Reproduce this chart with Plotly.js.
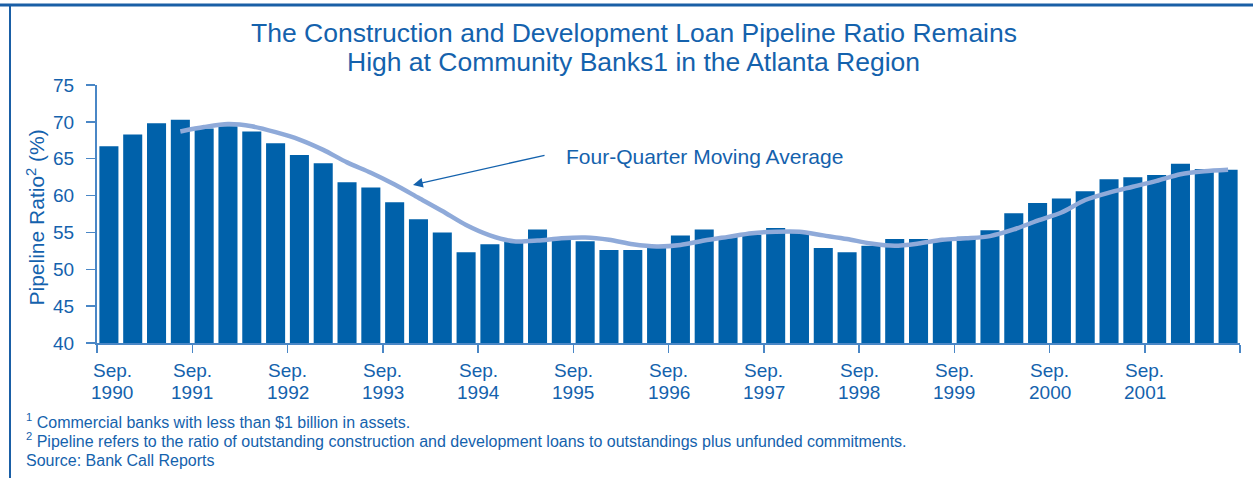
<!DOCTYPE html>
<html>
<head>
<meta charset="utf-8">
<script src="https://cdn.plot.ly/plotly-3.0.1.min.js"></script>
<style>
  html, body { margin: 0; padding: 0; background: #ffffff; }
  #chart { width: 1253px; height: 478px; }
</style>
</head>
<body>
<div id="chart"></div>
<script>
// ---- Data ----
const quarters = [
  "Sep 1990","Dec 1990","Mar 1991","Jun 1991","Sep 1991","Dec 1991","Mar 1992","Jun 1992",
  "Sep 1992","Dec 1992","Mar 1993","Jun 1993","Sep 1993","Dec 1993","Mar 1994","Jun 1994",
  "Sep 1994","Dec 1994","Mar 1995","Jun 1995","Sep 1995","Dec 1995","Mar 1996","Jun 1996",
  "Sep 1996","Dec 1996","Mar 1997","Jun 1997","Sep 1997","Dec 1997","Mar 1998","Jun 1998",
  "Sep 1998","Dec 1998","Mar 1999","Jun 1999","Sep 1999","Dec 1999","Mar 2000","Jun 2000",
  "Sep 2000","Dec 2000","Mar 2001","Jun 2001","Sep 2001","Dec 2001","Mar 2002","Jun 2002"
];
const pipelineRatio = [
  66.7, 68.3, 69.8, 70.3, 69.1, 69.4, 68.7, 67.1,
  65.5, 64.4, 61.8, 61.1, 59.1, 56.8, 55.0, 52.3,
  53.4, 53.7, 55.4, 54.1, 53.8, 52.6, 52.6, 53.0,
  54.6, 55.4, 54.4, 54.7, 55.6, 55.0, 52.9, 52.3,
  53.2, 54.1, 54.1, 54.0, 54.4, 55.3, 57.6, 59.0,
  59.6, 60.6, 62.2, 62.5, 62.8, 64.3, 63.6, 63.5
];
// Four-quarter moving average, starting at the 4th quarter (Jun 1991)
const movingAverage = [
  68.7, 69.3, 69.7, 69.4, 68.6, 67.6, 66.2, 64.5, 63.1, 61.5,
  59.7, 57.9, 56.0, 54.6, 53.8, 53.9, 54.2, 54.3, 54.0, 53.4,
  53.1, 53.3, 53.9, 54.4, 54.9, 55.1, 55.1, 54.6, 54.1, 53.5,
  53.2, 53.5, 54.0, 54.2, 54.5, 55.4, 56.6, 57.7, 59.4, 60.4,
  61.2, 62.0, 62.9, 63.3, 63.5
];
const tickMonth = "Sep.";
const tickYears = ["1990","1991","1992","1993","1994","1995","1996","1997","1998","1999","2000","2001"];
const yTicks = [40, 45, 50, 55, 60, 65, 70, 75];

const titleLines = [
  "The Construction and Development Loan Pipeline Ratio Remains",
  "High at Community Banks1 in the Atlanta Region"
];
const yTitle = "Pipeline Ratio<sup>2</sup> (%)";
const maLabel = "Four-Quarter Moving Average";
const footnotes = [
  "<sup>1</sup> Commercial banks with less than $1 billion in assets.",
  "<sup>2</sup> Pipeline refers to the ratio of outstanding construction and development loans to outstandings plus unfunded commitments.",
  "Source: Bank Call Reports"
];

// ---- Styling ----
const FONT = "'Liberation Sans', Arial, Helvetica, sans-serif";
const TEXT_BLUE = "#1462ad";
const BAR_BLUE = "#0061aa";
const LINE_BLUE = "#8faad9";
const AXIS_BLUE = "#4a87c6";

// quarter index -> x position (bar centers between yearly ticks)
const barX = quarters.map((q, i) => i + 0.5);
const maX = movingAverage.map((v, i) => i + 3 + 0.5);
const yearTickVals = [];
for (let k = 0; k <= quarters.length; k += 4) yearTickVals.push(k);

const traces = [
  {
    type: "bar",
    x: barX,
    y: pipelineRatio,
    width: 0.8,
    marker: { color: BAR_BLUE, line: { width: 0 } },
    hoverinfo: "skip",
    showlegend: false
  },
  {
    type: "scatter",
    mode: "lines",
    x: maX,
    y: movingAverage,
    line: { color: LINE_BLUE, width: 4.5, shape: "spline", smoothing: 0.8 },
    hoverinfo: "skip",
    showlegend: false
  }
];

const annotations = [];
// title lines
titleLines.forEach((t, i) => {
  annotations.push({
    text: t, showarrow: false, xref: "paper", yref: "paper",
    x: 0.4698, y: (343 - (33 + i * 29)) / 258, xanchor: "center", yanchor: "middle",
    font: { family: FONT, size: 26.5, color: TEXT_BLUE }
  });
});
// y-axis title
annotations.push({
  text: yTitle, showarrow: false, xref: "paper", yref: "paper",
  x: (35.5 - 97) / 1143, y: (343 - 218) / 258, xanchor: "center", yanchor: "middle",
  textangle: -90, font: { family: FONT, size: 21, color: TEXT_BLUE }
});
// x tick labels
tickYears.forEach((yr, i) => {
  const xv = i === 0 ? 0.65 : i * 4;
  annotations.push({
    text: tickMonth, showarrow: false, xref: "x", yref: "paper",
    x: xv, y: (343 - 370) / 258, xanchor: "center", yanchor: "middle",
    font: { family: FONT, size: 19, color: TEXT_BLUE }
  });
  annotations.push({
    text: yr, showarrow: false, xref: "x", yref: "paper",
    x: xv, y: (343 - 392) / 258, xanchor: "center", yanchor: "middle",
    font: { family: FONT, size: 19, color: TEXT_BLUE }
  });
});
// moving average label + arrow
annotations.push({
  text: maLabel, showarrow: false, xref: "x", yref: "y",
  x: (704 - 97) / 23.81, y: 40 + (343 - 157) / 7.37, xanchor: "center", yanchor: "middle",
  font: { family: FONT, size: 21, color: TEXT_BLUE }
});
annotations.push({
  text: "", showarrow: true, xref: "x", yref: "y",
  x: (413 - 97) / 23.81, y: 40 + (343 - 185) / 7.37,
  ax: 133, ay: -30, axref: "pixel", ayref: "pixel",
  arrowhead: 2, arrowsize: 1.4, arrowwidth: 1.4, arrowcolor: TEXT_BLUE, standoff: 0
});
// footnotes
footnotes.forEach((t, i) => {
  annotations.push({
    text: t, showarrow: false, xref: "paper", yref: "paper",
    x: (24 - 97) / 1143, y: (343 - [421, 440, 460][i]) / 258, xanchor: "left", yanchor: "middle",
    font: { family: FONT, size: 16, color: TEXT_BLUE }
  });
});

const layout = {
  width: 1253, height: 478,
  margin: { l: 97, r: 13, t: 85, b: 135, pad: 0 },
  paper_bgcolor: "#ffffff", plot_bgcolor: "#ffffff",
  font: { family: FONT, color: TEXT_BLUE },
  bargap: 0.2,
  xaxis: {
    range: [0, quarters.length], tickmode: "array", tickvals: yearTickVals,
    showticklabels: false, ticks: "outside", ticklen: 8, tickwidth: 1.5,
    tickcolor: AXIS_BLUE, showline: true, linecolor: AXIS_BLUE, linewidth: 2,
    showgrid: false, zeroline: false, fixedrange: true
  },
  yaxis: {
    range: [40, 75], tickmode: "array", tickvals: yTicks, ticks: "outside", ticklen: 9,
    tickwidth: 1.5, tickcolor: AXIS_BLUE, showline: true, linecolor: AXIS_BLUE, linewidth: 2,
    showgrid: false, zeroline: false, ticklabelstandoff: 8,
    tickfont: { family: FONT, size: 19, color: TEXT_BLUE }, fixedrange: true
  },
  annotations: annotations,
  shapes: [
    { type: "line", xref: "paper", yref: "paper", x0: -97 / 1143, x1: 1156 / 1143,
      y0: (343 - 5) / 258, y1: (343 - 5) / 258, line: { color: "#1a5fa6", width: 3 } },
    { type: "line", xref: "paper", yref: "paper", x0: (10 - 97) / 1143, x1: (10 - 97) / 1143,
      y0: (343 - 5) / 258, y1: (343 - 480) / 258, line: { color: "#1a5fa6", width: 2 } }
  ]
};

Plotly.newPlot("chart", traces, layout, { staticPlot: true, displayModeBar: false });
</script>
</body>
</html>
